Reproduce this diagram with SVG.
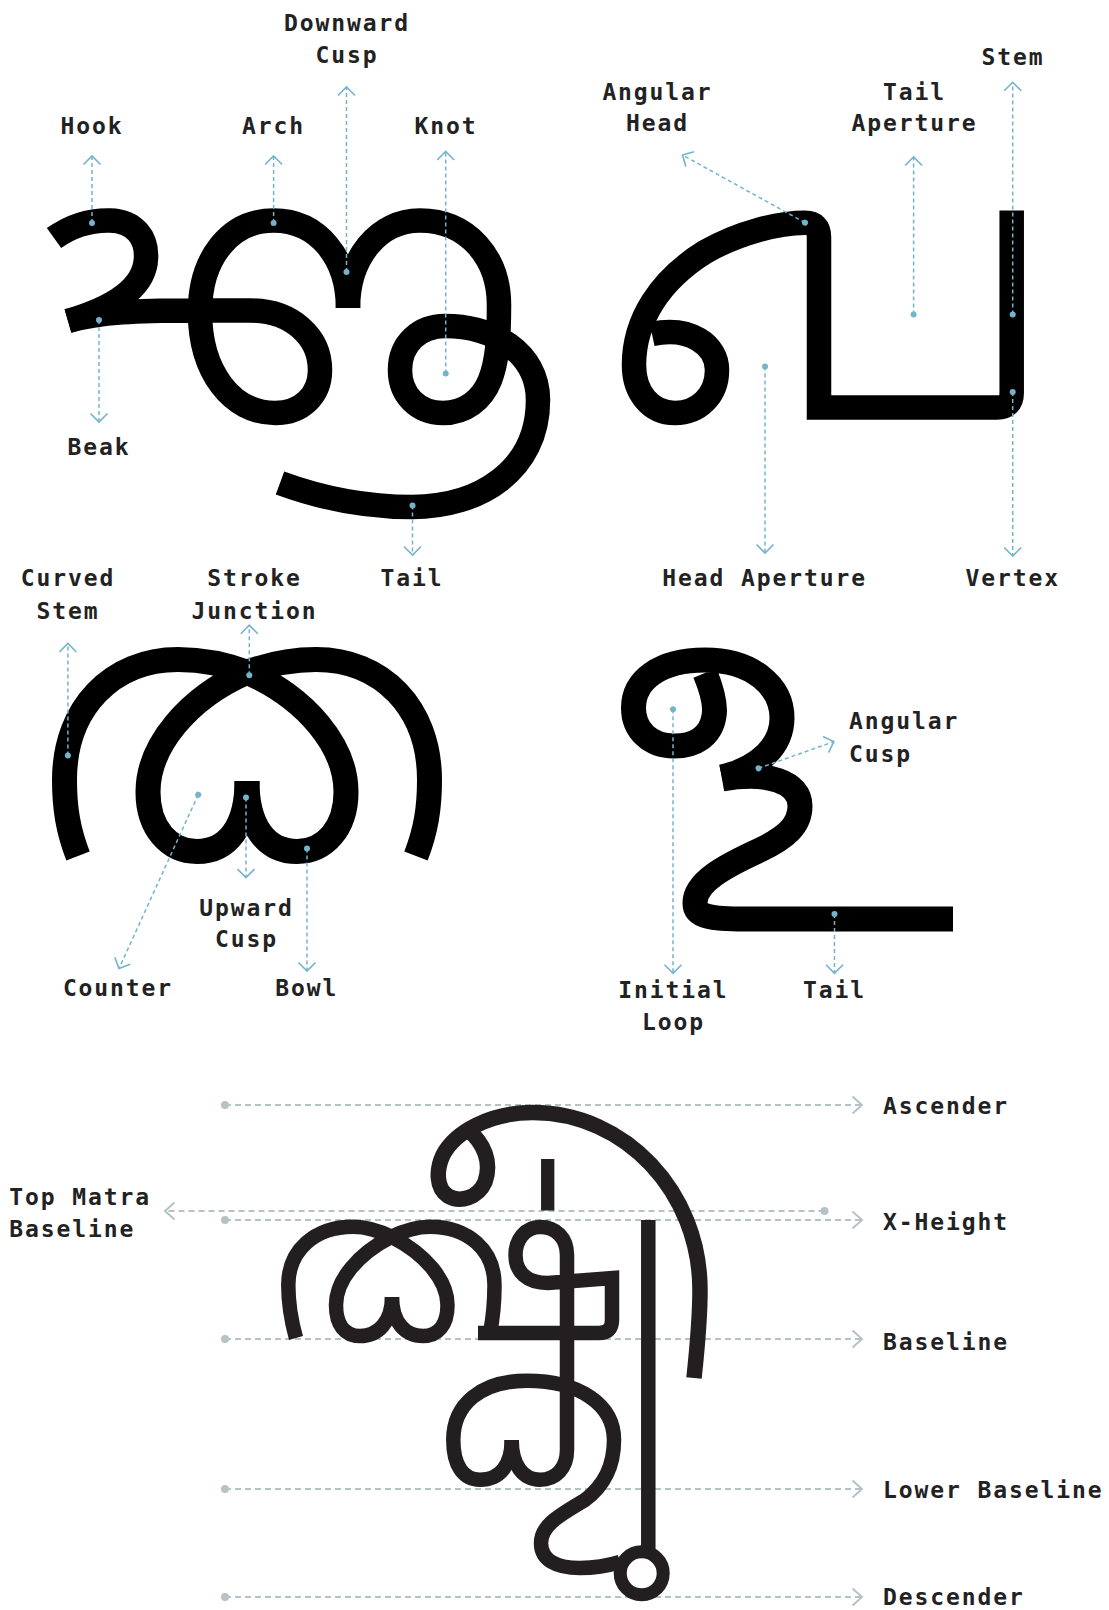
<svg xmlns="http://www.w3.org/2000/svg" width="1109" height="1610" viewBox="0 0 1109 1610">
<style>
.lbl{font-family:"DejaVu Sans Mono","Liberation Mono",monospace;font-weight:700;font-size:23px;letter-spacing:1.9px;fill:#222}
.mid{text-anchor:middle}
.g1{fill:none;stroke:#000;stroke-width:24.5;stroke-linecap:butt;stroke-linejoin:round}
.g5{fill:none;stroke:#231f20;stroke-width:14.5;stroke-linecap:butt;stroke-linejoin:round}
.lead{fill:none;stroke:#74b4cb;stroke-width:1.5;stroke-dasharray:4 3;marker-start:url(#dotB);marker-end:url(#chevB)}
.guide{fill:none;stroke:#b5c3c6;stroke-width:2;stroke-dasharray:6 4;marker-start:url(#dotG);marker-end:url(#chevG)}
</style>
<defs>
<marker id="chevB" markerUnits="userSpaceOnUse" markerWidth="20" markerHeight="20" refX="0" refY="0" orient="auto" style="overflow:visible"><path d="M-8.5,-8.5 L0,0 L-8.5,8.5" fill="none" stroke="#74b4cb" stroke-width="1.6"/></marker>
<marker id="dotB" markerUnits="userSpaceOnUse" markerWidth="10" markerHeight="10" refX="0" refY="0" orient="auto" style="overflow:visible"><circle r="3" fill="#74b4cb"/></marker>
<marker id="chevG" markerUnits="userSpaceOnUse" markerWidth="20" markerHeight="20" refX="0" refY="0" orient="auto" style="overflow:visible"><path d="M-9.5,-8.5 L0,0 L-9.5,8.5" fill="none" stroke="#b5c3c6" stroke-width="2"/></marker>
<marker id="dotG" markerUnits="userSpaceOnUse" markerWidth="10" markerHeight="10" refX="0" refY="0" orient="auto" style="overflow:visible"><circle r="4" fill="#b5c3c6"/></marker>
</defs>
<rect width="1109" height="1610" fill="#fff"/>

<g id="guides">
<path class="guide" d="M225,1105 L862,1105"/>
<path class="guide" d="M824.5,1211 L165,1211"/>
<path class="guide" d="M225,1220 L862,1220"/>
<path class="guide" d="M225,1339 L862,1339"/>
<path class="guide" d="M225,1489 L862,1489"/>
<path class="guide" d="M225,1597 L862,1597"/>
</g>

<g id="glyph-1">
<path class="g1" d="M54,238 C72,225 92,220 110,220.4 C135,221 147,238 146,258 C145,288 112,308 68,321"/>
<path class="g1" d="M68,321 C100,312 140,310.5 190,310.5 L250,310.5 C292,310.5 320,337 320,370 C320,395 302,413 275,413 C232,413 200,372 200,312 C200,258 230,220.5 273.6,220.5 C318,220.5 348,258 348,308"/>
<path class="g1" d="M348,308 C348,258 378,220.5 420,220.5 C468,220.5 499,258 499,305 C499,340 497,362 490,380 C482,400 465,413 443,413 C418,413 400,395 400,370 C400,343 420,326 445,326 C492,326 538,352 538,400 C538,470 480,507 412,507 C360,507 318,497 280,483"/>
</g>

<g id="glyph-2">
<path class="g1" style="stroke-linejoin:miter" d="M652,334 C690,326 717,345 717,370 C717,396 698,413 675,413 C650,413 634,392 634,365 C634,320 660,280 705,252 C740,232 780,222.7 805,222.7 Q819,222.7 819,237 L819,407.5 L997,407.5 Q1011.7,407.5 1011.7,393 L1011.7,210.5"/>
</g>

<g id="glyph-3">
<path class="g1" style="stroke-width:25" d="M78,856 C68,830 64.5,808 64.5,780 C64.5,708 112,659.5 178,659.5 C205,659.5 228,665 249,673 C305,698 346,745 346,792 C346,828 325,851.5 297,851.5 C266,851.5 247,826 247,781"/>
<path class="g1" style="stroke-width:25" d="M416,856 C426,830 429.5,808 429.5,780 C429.5,708 382,659.5 316,659.5 C289,659.5 266,665 245,673 C189,698 148,745 148,792 C148,828 169,851.5 197,851.5 C228,851.5 247,826 247,781"/>
</g>

<g id="glyph-4">
<path class="g1" style="stroke-width:25" d="M705,673 C712,690 716,705 714,716 C711,736 695,746 674,746 C650,746 633.5,730 633.5,708 C633.5,680 660,660 705,660 C752,660 782,686 782,718 C782,745 760,768 722,777"/>
<path class="g1" style="stroke-width:25" d="M722,779 C768,771 800,782 800,806 C800,826 785,838 760,850 C725,866 695,882 695,903 C695,917 712,919 745,919 L953,919"/>
</g>

<g id="glyph-5">
<path class="g5" style="stroke-width:15.5" d="M694,1378 C697,1350 700,1320 700,1290 C700,1192 625,1112.5 533,1112.5 C490,1112.5 455,1132 443,1155 C436,1170 436,1188 448,1196 C460,1203 478,1198 485,1182 C492,1162 484,1143 468,1130"/>
<path class="g5" style="stroke-width:13.3" d="M547.7,1159 L547.7,1210.5"/>
<path class="g5" d="M296,1338 C291,1320 288.3,1305 288.3,1285 C288.3,1250 315,1226.7 353,1226.7 C368,1226.7 380,1231 392,1237 C425,1254 447.5,1280 447.5,1305 C447.5,1325 438,1336 423,1336 C405,1336 392,1322 392,1297"/>
<path class="g5" d="M490,1333 C493,1318 494.5,1305 494.5,1285 C494.5,1250 468,1226.7 430,1226.7 C415,1226.7 403,1231 391,1237 C358,1254 336,1280 336,1305 C336,1325 345,1336 360,1336 C378,1336 392,1322 392,1297"/>
<path class="g5" style="stroke-linejoin:miter" d="M511.7,1440 C511.7,1465 523,1479.7 540,1479.7 C556,1479.7 567,1468 567,1450 L567,1255 C567,1238 556,1227 540,1227 C525,1227 515.5,1240 515.5,1255 C515.5,1272 527,1283 548,1283 L612,1278 L612,1320 Q612,1333 599,1333 L478,1333"/>
<path class="g5" d="M511.7,1440 C511.7,1465 500,1479.7 480,1479.7 C463,1479.7 453.3,1465 453.3,1440 C453.3,1405 480,1380.8 527,1380.8 C580,1380.8 614,1405 614,1440 C614,1465 605,1485 585,1500 C560,1515 541,1525 541,1543 C541,1560 556,1568 580,1568 C595,1568 607,1566 620,1562"/>
<path class="g5" d="M648.3,1220 L648.3,1553"/>
<circle class="g5" style="stroke-width:13" cx="641.7" cy="1573.3" r="21.5"/>
</g>

<g id="leaders">
<path class="lead" d="M92,223 L92,156"/>
<path class="lead" d="M273.6,223 L273.6,156"/>
<path class="lead" d="M346.5,272 L346.5,87"/>
<path class="lead" d="M445.7,373.6 L445.7,151.5"/>
<path class="lead" d="M99,320 L99,422"/>
<path class="lead" d="M412.5,505.5 L412.5,555"/>
<path class="lead" d="M805,222.7 L682.5,155"/>
<path class="lead" d="M913.6,314.6 L913.6,157"/>
<path class="lead" d="M1012.7,314.6 L1012.7,82.3"/>
<path class="lead" d="M765,366.6 L765,553"/>
<path class="lead" d="M1012.7,392 L1012.7,556"/>
<path class="lead" d="M67.9,755.6 L67.9,643.5"/>
<path class="lead" d="M249.3,675.3 L249.3,625.2"/>
<path class="lead" d="M198.2,794.7 L119,968.5"/>
<path class="lead" d="M246,797.4 L246,877.6"/>
<path class="lead" d="M307,848.5 L307,971"/>
<path class="lead" d="M758.5,768.3 L833.8,741.7"/>
<path class="lead" d="M673,709.3 L673,973.3"/>
<path class="lead" d="M834.5,914 L834.5,973.3"/>
</g>

<g id="labels">
<g id="l-downward-cusp"><text class="lbl mid" x="347" y="31">Downward</text><text class="lbl mid" x="347" y="63">Cusp</text></g>
<g id="l-hook"><text class="lbl mid" x="92" y="134">Hook</text></g>
<g id="l-arch"><text class="lbl mid" x="273.6" y="134">Arch</text></g>
<g id="l-knot"><text class="lbl mid" x="446" y="134">Knot</text></g>
<g id="l-beak"><text class="lbl mid" x="99" y="454.5">Beak</text></g>
<g id="l-angular-head"><text class="lbl mid" x="657.5" y="99.5">Angular</text><text class="lbl mid" x="657.5" y="131">Head</text></g>
<g id="l-tail-aperture"><text class="lbl mid" x="914.5" y="99.5">Tail</text><text class="lbl mid" x="914.5" y="131">Aperture</text></g>
<g id="l-stem"><text class="lbl mid" x="1013" y="65">Stem</text></g>
<g id="l-tail1"><text class="lbl mid" x="412" y="586.4">Tail</text></g>
<g id="l-head-aperture"><text class="lbl mid" x="764.7" y="586.3">Head Aperture</text></g>
<g id="l-vertex"><text class="lbl mid" x="1012.7" y="586.3">Vertex</text></g>
<g id="l-curved-stem"><text class="lbl mid" x="68" y="586.4">Curved</text><text class="lbl mid" x="68" y="618.6">Stem</text></g>
<g id="l-stroke-junction"><text class="lbl mid" x="254.5" y="586.4">Stroke</text><text class="lbl mid" x="254.5" y="618.6">Junction</text></g>
<g id="l-upward-cusp"><text class="lbl mid" x="246.4" y="915.5">Upward</text><text class="lbl mid" x="246.4" y="947.3">Cusp</text></g>
<g id="l-counter"><text class="lbl mid" x="118" y="996">Counter</text></g>
<g id="l-bowl"><text class="lbl mid" x="306.8" y="996">Bowl</text></g>
<g id="l-angular-cusp"><text class="lbl" x="849" y="729.3">Angular</text><text class="lbl" x="849" y="761.7">Cusp</text></g>
<g id="l-initial-loop"><text class="lbl mid" x="673.4" y="998.3">Initial</text><text class="lbl mid" x="673.4" y="1030">Loop</text></g>
<g id="l-tail2"><text class="lbl mid" x="834.4" y="998.3">Tail</text></g>
<g id="l-ascender"><text class="lbl" x="883" y="1113.6">Ascender</text></g>
<g id="l-xheight"><text class="lbl" x="883" y="1230">X-Height</text></g>
<g id="l-baseline"><text class="lbl" x="883" y="1350">Baseline</text></g>
<g id="l-lower-baseline"><text class="lbl" x="883" y="1497.5">Lower Baseline</text></g>
<g id="l-descender"><text class="lbl" x="883" y="1605">Descender</text></g>
<g id="l-top-matra"><text class="lbl" x="9.3" y="1205">Top Matra</text><text class="lbl" x="9.3" y="1236.7">Baseline</text></g>
</g>
</svg>
